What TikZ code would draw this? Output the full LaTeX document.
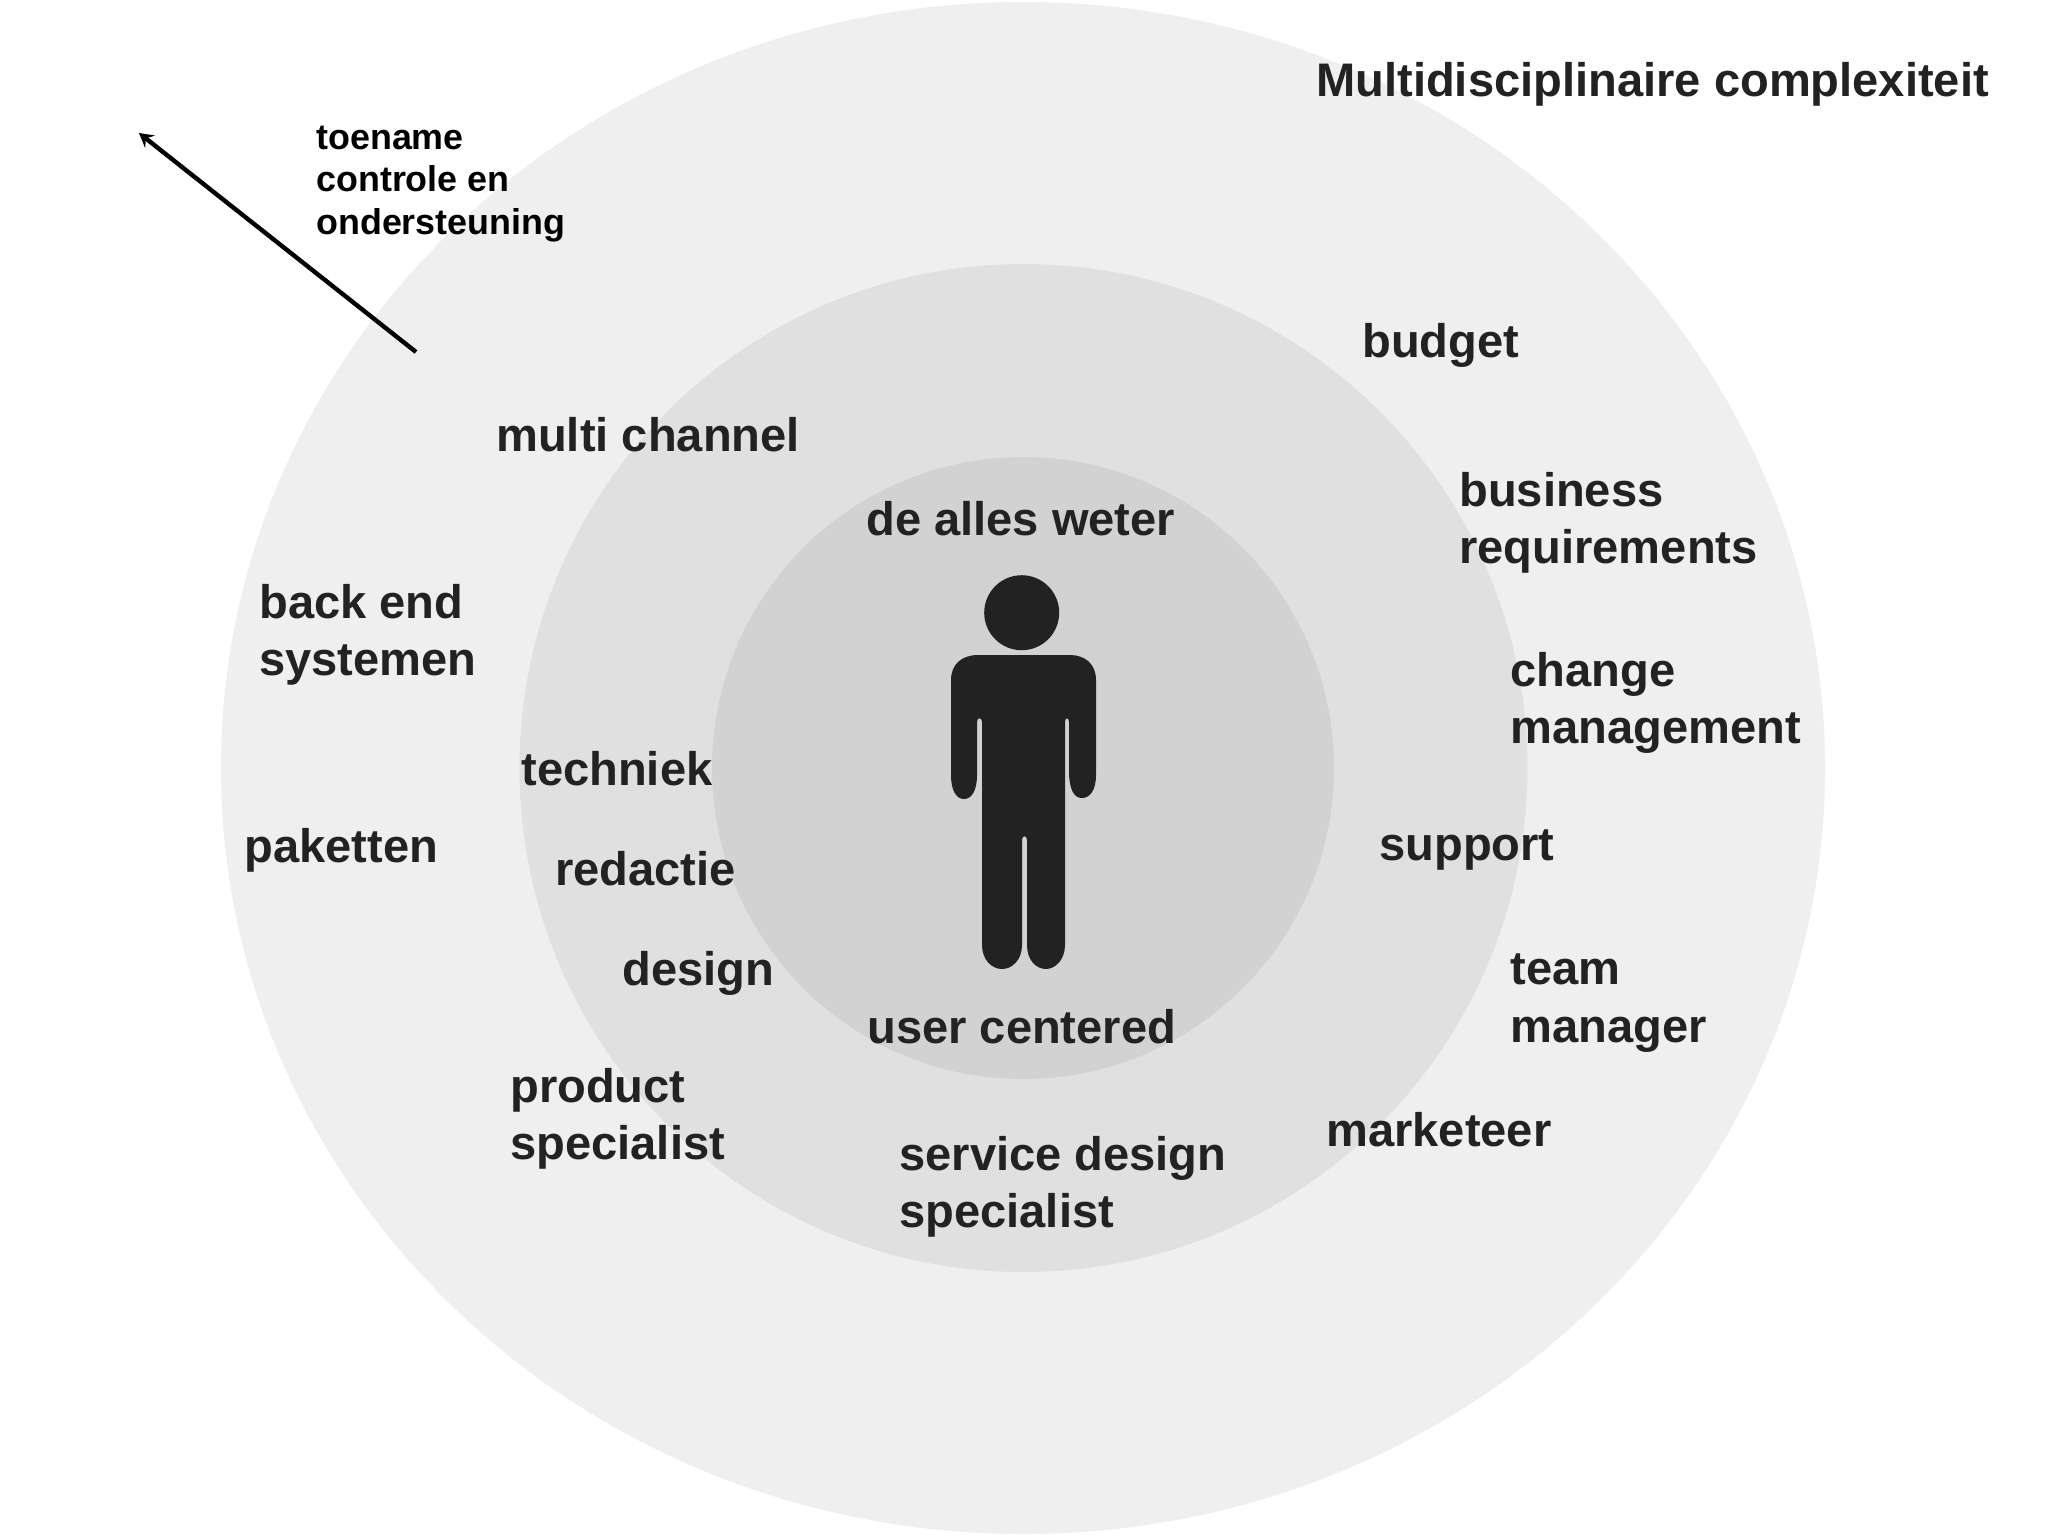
\documentclass[tikz,border=0pt]{standalone}
\usepackage{fontspec}
\setmainfont{Liberation Sans}
\usepackage{tikz}
\usetikzlibrary{arrows.meta}
\definecolor{ringouter}{HTML}{EFEFEF}
\definecolor{ringmiddle}{HTML}{E0E0E0}
\definecolor{ringinner}{HTML}{D2D2D2}
\definecolor{inkdark}{HTML}{222222}

\begin{document}
\begin{tikzpicture}[x=0.02cm,y=-0.02cm,
    lbl/.style={anchor=west,inner sep=0pt,align=left,text=inkdark,font=\fontsize{26.8}{32.6}\selectfont\bfseries},
    smalllbl/.style={anchor=west,inner sep=0pt,align=left,text=black,font=\fontsize{20.4}{24.4}\selectfont\bfseries}]
          \useasboundingbox[fill=white] (0,0) rectangle (2048,1536);

          \fill[ringouter] (1023,768) ellipse [x radius=802,y radius=766];
          \fill[ringmiddle] (1023.5,768) circle [radius=504];
          \fill[ringinner] (1023,768) circle [radius=311];

          % person
          \fill[inkdark] (1021.7,612.7) circle [radius=37.5];
          \fill[inkdark] (951,680) .. controls (951,664) and (962,655) .. (978,655) -- (1070,655)
            .. controls (1085,655) and (1096,664) .. (1096,680) -- (1096,775)
            .. controls (1096,790) and (1090,798) .. (1082,798) .. controls (1074,798) and (1070,790) .. (1069,775)
            -- (1069,722) .. controls (1069,717) and (1065,717) .. (1065,722) -- (1065,945)
            .. controls (1065,960) and (1055,969) .. (1046,969) .. controls (1036,969) and (1027,960) .. (1027,945)
            -- (1027,840) .. controls (1027,835) and (1022,835) .. (1022,840) -- (1022,945)
            .. controls (1022,960) and (1012,969) .. (1002,969) .. controls (992,969) and (982,960) .. (982,945)
            -- (982,722) .. controls (982,717) and (977,717) .. (977,722) -- (977,775)
            .. controls (977,790) and (972,799) .. (964,799) .. controls (956,799) and (951,790) .. (951,775) -- cycle;

          \node[lbl] (title) at (1316,84) {Multidisciplinaire complexiteit};
          \node[smalllbl] (toename) at (316,184) {toename\\controle en\\ondersteuning};
          \node[lbl] (budget) at (1362,345) {budget};
          \node[lbl] (business) at (1459,523) {business\\requirements};
          \node[lbl] (change) at (1510,703) {change\\management};
          \node[lbl] (support) at (1379,850) {support};
          \node[lbl] (team) at (1510,1003) {team\\manager};
          \node[lbl] (marketeer) at (1326,1130) {marketeer};
          \node[lbl] (service) at (899,1187) {service design\\specialist};
          \node[lbl] (user) at (867,1027) {user centered};
          \node[lbl] (weter) at (866,519) {de alles weter};
          \node[lbl] (channel) at (496,435) {multi channel};
          \node[lbl] (backend) at (259,635) {back end\\systemen};
          \node[lbl] (techniek) at (521,769) {techniek};
          \node[lbl] (paketten) at (244,850) {paketten};
          \node[lbl] (redactie) at (555,869) {redactie};
          \node[lbl] (design) at (622,973) {design};
          \node[lbl] (product) at (510,1119) {product\\specialist};

          \coordinate (arrowstart) at (416,352);
          \coordinate (arrowend) at (139,133);
          \draw[line width=2.5pt,-{Stealth[length=8pt,width=9pt,inset=3pt]}] (arrowstart) -- (arrowend);
        \end{tikzpicture}
\end{document}
